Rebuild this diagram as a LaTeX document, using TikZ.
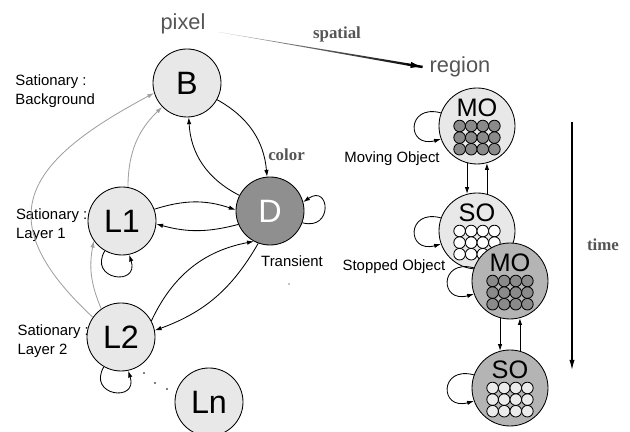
\documentclass[tikz,border=0pt]{standalone}
\usepackage{fontspec}
\setmainfont{Liberation Sans}
\newfontfamily\labelserif{Liberation Serif}
\usetikzlibrary{arrows.meta,calc}
\definecolor{StLight}{HTML}{E8E8E8}
\definecolor{StDark}{HTML}{8F8F8F}
\definecolor{StMid}{HTML}{B4B4B4}
\definecolor{DotDark}{HTML}{8A8A8A}
\definecolor{DotLight}{HTML}{EBEBEB}
\definecolor{TxtGray}{HTML}{555555}
\definecolor{ArrGray}{HTML}{A0A0A0}

\begin{document}
\begin{tikzpicture}[>={Latex[length=1.7mm,width=1.1mm]},line width=0.6pt]
\tikzset{pstate/.style={circle,draw,fill=StLight,minimum size=1.7cm,inner sep=0pt,font=\fontsize{23}{26}\selectfont},rstate/.style={circle,draw,minimum size=1.9cm,inner sep=0pt},rname/.style={font=\fontsize{18}{20}\selectfont,inner sep=0pt},statelbl/.style={font=\fontsize{10.6}{13.5}\selectfont,align=left,anchor=west,inner sep=0pt},tiername/.style={font=\fontsize{15.5}{18}\selectfont,text=TxtGray},kindlbl/.style={font=\labelserif\bfseries\fontsize{12}{14}\selectfont,text=TxtGray},trans/.style={->},lift/.style={->,color=ArrGray},selfloop/.style={->,looseness=3.5}}
\useasboundingbox (0,0) rectangle (15.75,10.8);
% labels of the pixel states
\node[statelbl] (tB) at (0.375,8.525) {Sationary :\\Background};
\node[statelbl] (tL1) at (0.39,5.175) {Sationary :\\Layer 1};
\node[statelbl] (tL2) at (0.43,2.275) {Sationary :\\Layer 2};
\node[statelbl,anchor=center] (tD) at (7.3,4.275) {Transient};
\node[statelbl,anchor=center] (tMO) at (9.8,6.825) {Moving Object};
\node[statelbl,anchor=center] (tSO) at (9.85,4.125) {Stopped Object};
% pixel level
\node[tiername] (pixel) at (4.575,10.2) {pixel};
\node[tiername] (region) at (11.5,9.125) {region};
\node[pstate] (B) at (4.675,8.725) {B};
\node[pstate,fill=StDark,text=white] (D) at (6.75,5.525) {D};
\node[pstate] (L1) at (3.05,5.275) {L1};
\node[pstate] (L2) at (3.025,2.375) {L2};
\node[pstate] (Ln) at (5.225,0.75) {Ln};
\fill (3.6,1.475) circle (0.7pt) (3.875,1.225) circle (0.7pt) (4.175,1.075) circle (0.7pt);
\fill (7.225,3.7) circle (0.4pt);
% transitions
\draw[trans] (B) to[bend left=28] node[kindlbl,pos=0.78,anchor=west] (color) {color} (D);
\draw[trans] (D) to[bend left=30] (B);
\draw[trans] (L1.20) to[bend left=18] (D.178);
\draw[trans] (D.203) to[bend left=15] (L1.-5);
\draw[trans] (L2.28) to[bend left=27] (D.242);
\draw[trans] (D.250) to[bend left=20] (L2.11);
\draw[lift] (L1.80) to[bend left=23] (B.224);
\draw[lift] (L2.125) to[bend left=17] (L1.215);
\draw[lift] (L2.145) to[out=137,in=208,looseness=1.6] (B.197);
\draw[selfloop] (L1.-120) to[out=240,in=288] (L1.-78);
\draw[selfloop] (L2.-120) to[out=240,in=288] (L2.-78);
\draw[selfloop,looseness=4] (D.-20) to[out=-15,in=35] (D.15);
% spatial step
\coordinate (sp0) at ($(pixel.east)+(0.2,-0.2)$);
\coordinate (sp1) at ($(region.west)+(-0.05,0)$);
\shade[left color=ArrGray!70,right color=black] (sp0) -- ($(sp1)!0.9pt!90:(sp0)$) -- ($(sp1)!0.9pt!-90:(sp0)$) -- cycle;
\draw[->,line width=1.2pt,>={Latex[length=3mm,width=1.6mm]}] ($(sp1)!4mm!(sp0)$) -- (sp1);
\node[kindlbl] (spatial) at (8.425,9.95) {spatial};
% region level
\foreach \r/\x/\y/\f/\d/\t in {MO1/11.925/7.65/StLight/DotDark/MO,SO1/11.925/5.025/StLight/white/SO,MO2/12.75/3.775/StMid/DotDark/MO,SO2/12.75/1.1/StMid/DotLight/SO}{
  \node[rstate,fill=\f] (\r) at (\x,\y) {};
  \node[rname] (\r-txt) at ([yshift=0.45cm]\r.center) {\t};
  \foreach \i in {0,...,3}
    \foreach \j in {0,1,2}
      \draw[fill=\d] ($(\r.center)+(-0.435+0.29*\i,-0.29*\j)$) circle (0.145);
  \draw[selfloop] (\r.160) to[out=165,in=195] (\r.200);
}
\draw[trans] (MO1.-105) -- (SO1.105);
\draw[trans] (SO1.75) -- (MO1.-75);
\draw[trans] (MO2.-105) -- (SO2.105);
\draw[trans] (SO2.75) -- (MO2.-75);
% time axis
\coordinate (t0) at (14.3,7.75);
\coordinate (t1) at (14.3,1.55);
\draw[->,line width=0.8pt,>={Latex[length=2.5mm,width=1.3mm]}] (t0) -- (t1);
\node[kindlbl] (time) at (15.075,4.675) {time};
\end{tikzpicture}
\end{document}
